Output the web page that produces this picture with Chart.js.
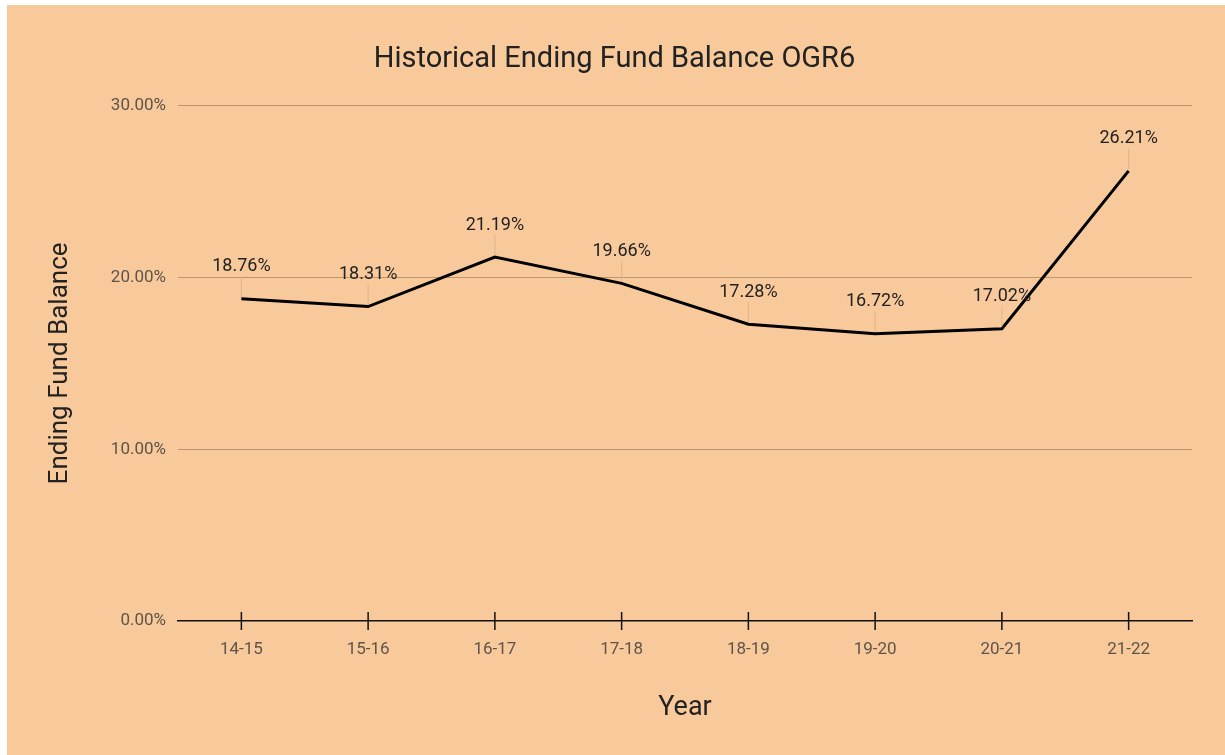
<!DOCTYPE html>
<html>
<head>
<meta charset="utf-8">
<script src="https://cdn.jsdelivr.net/npm/chart.js@4"></script>
<style>
  html, body { margin: 0; padding: 0; background: #fff; }
  #wrap { position: absolute; left: 7px; top: 5px; width: 1218px; height: 750px; background: #f8c99b; }
</style>
</head>
<body>
<div id="wrap"><canvas id="myChart" width="1218" height="750"></canvas></div>
<script>
const years = ['14-15', '15-16', '16-17', '17-18', '18-19', '19-20', '20-21', '21-22'];
const balance = [18.76, 18.31, 21.19, 19.66, 17.28, 16.72, 17.02, 26.21];
const yTicks = [0, 10, 20, 30];

Chart.defaults.font.family = 'Roboto, sans-serif';

// tick marks crossing the axis, and the labels with their little leader lines
const extras = {
  id: 'extras',
  afterDatasetsDraw(chart) {
    const ctx = chart.ctx;
    const x = chart.scales.x, y = chart.scales.y;
    const y0 = y.getPixelForValue(0);
    ctx.save();
    ctx.strokeStyle = '#111';
    ctx.lineWidth = 1.5;
    years.forEach((c, i) => {
      const px = x.getPixelForValue(i);
      ctx.beginPath();
      ctx.moveTo(px, y0 - 9);
      ctx.lineTo(px, y0 + 9);
      ctx.stroke();
    });
    const meta = chart.getDatasetMeta(0);
    ctx.font = '18px Roboto, sans-serif';
    ctx.fillStyle = '#222';
    ctx.textAlign = 'center';
    ctx.textBaseline = 'middle';
    meta.data.forEach((pt, i) => {
      ctx.strokeStyle = '#dcb48c';
      ctx.lineWidth = 1;
      ctx.beginPath();
      ctx.moveTo(pt.x, pt.y - 2);
      ctx.lineTo(pt.x, pt.y - 22);
      ctx.stroke();
      ctx.fillText(balance[i].toFixed(2) + '%', pt.x, pt.y - 32);
    });
    ctx.restore();
  }
};

new Chart(document.getElementById('myChart').getContext('2d'), {
  type: 'line',
  data: {
    labels: years,
    datasets: [{
      label: 'Ending Fund Balance',
      data: balance,
      borderColor: '#000',
      borderWidth: 3,
      pointRadius: 0,
      tension: 0,
      fill: false
    }]
  },
  options: {
    responsive: false,
    animation: false,
    layout: { padding: { left: 30, right: 33, top: 0, bottom: 30 } },
    plugins: {
      legend: { display: false },
      tooltip: { enabled: false },
      title: {
        display: true,
        text: 'Historical Ending Fund Balance OGR6',
        color: '#222',
        font: { size: 29, weight: 'normal' },
        padding: { top: 37, bottom: 29 }
      }
    },
    scales: {
      x: {
        offset: true,
        grid: { display: false },
        border: { display: true, color: '#111', width: 1.5 },
        ticks: { color: '#5e5449', font: { size: 17 }, padding: 11 },
        title: { display: true, text: 'Year', color: '#222', font: { size: 27 }, padding: { top: 0, bottom: 1 } },
        afterFit(s) { s.height = 104; }
      },
      y: {
        min: 0,
        max: 30,
        afterBuildTicks(s) { s.ticks = yTicks.map(v => ({ value: v })); },
        grid: {
          drawTicks: false,
          color: ctx => ctx.tick && ctx.tick.value === 0 ? 'rgba(0,0,0,0)' : 'rgba(150,115,80,0.6)',
          lineWidth: 1
        },
        border: { display: false },
        ticks: {
          color: '#5e5449',
          font: { size: 17 },
          padding: 12,
          callback: v => v.toFixed(2) + '%'
        },
        title: { display: true, text: 'Ending Fund Balance', color: '#222', font: { size: 26 }, padding: { top: 8, bottom: 0 } },
        afterFit(s) { s.width = 141; }
      }
    }
  },
  plugins: [extras]
});
</script>
</body>
</html>
